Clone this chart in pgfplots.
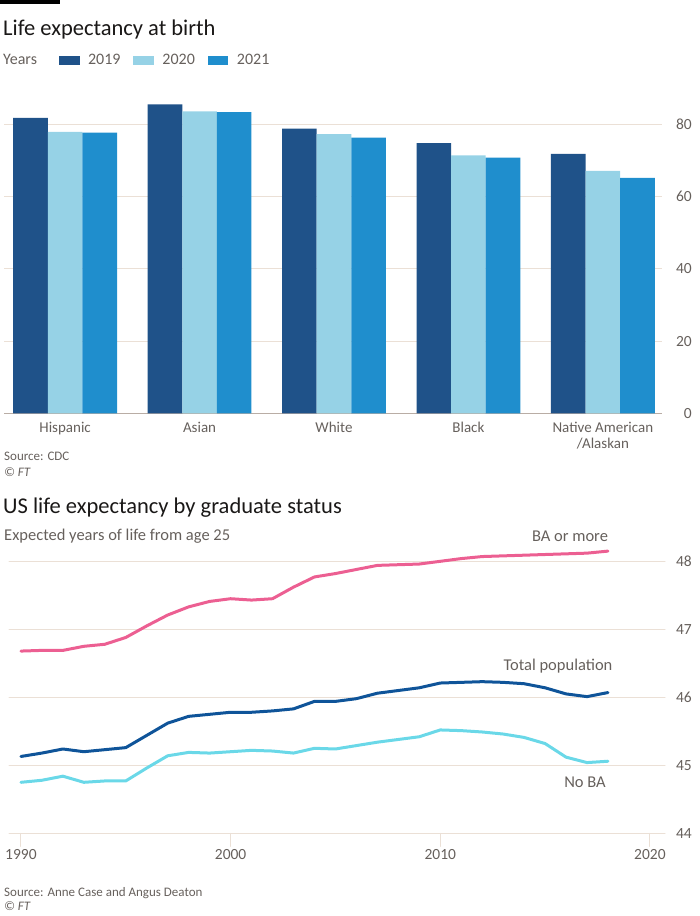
\documentclass[border=0pt]{standalone}
\usepackage{pgfplots}
\pgfplotsset{compat=1.18}
\usepackage{fontspec}
\setmainfont{Carlito}
\definecolor{cA}{HTML}{1F5289}
\definecolor{cB}{HTML}{96D2E6}
\definecolor{cC}{HTML}{1F8ECD}
\definecolor{pinkc}{HTML}{EC5F92}
\definecolor{navyc}{HTML}{0F5499}
\definecolor{cyanc}{HTML}{6AD8E8}
\definecolor{gridc}{HTML}{EBE0D6}
\definecolor{basec}{HTML}{B9ADA5}
\definecolor{txt}{HTML}{66605C}
\definecolor{ttl}{HTML}{1A1817}
\begin{document}
\begin{tikzpicture}
\path[use as bounding box] (0pt,0pt) rectangle (700pt,-916pt);
\fill[black] (0pt,0pt) rectangle (60pt,-4pt);
\node[anchor=base west, inner sep=0pt, text=ttl, font=\fontsize{22.5}{26}\selectfont] at (3pt,-35pt) {Life expectancy at birth};

\begin{axis}[
  at={(4.5pt,-413.3pt)}, anchor=south west, scale only axis,
  width=657.5pt, height=317.9pt,
  xmin=-0.451, xmax=4.44, ymin=0, ymax=88,
  ybar=0pt, bar width=34.6pt,
  axis line style={draw=none},
  xtick={0,1,2,3,4},
  xticklabels={Hispanic,Asian,White,Black,{Native American\\/Alaskan}},
  xticklabel style={align=center, yshift=-5pt, font=\fontsize{15}{16.5}\selectfont, text=txt},
  major tick length=0pt,
  ytick={20,40,60,80},
  extra y ticks={0},
  extra y tick style={grid style={draw=basec, line width=1.2pt}},
  ymajorgrids, grid style={draw=gridc, line width=1pt},
  yticklabel pos=right,
  yticklabel style={anchor=east, xshift=30pt, inner sep=0pt, font=\fontsize{15.5}{17}\selectfont, text=txt},
  /pgf/number format/assume math mode=true,
  legend style={draw=none, fill=none, at={(axis description cs:-0.0152,1.1098)}, anchor=west,
    inner sep=0pt, font=\fontsize{16}{18}\selectfont, text=txt,
    nodes={inner sep=0pt},
    /tikz/every odd column/.append style={column sep=8.5pt},
    /tikz/every even column/.append style={column sep=13pt}},
  legend columns=-1,
  legend image code/.code={\fill[#1] (0pt,-4.6pt) rectangle (20.5pt,4.6pt);},
]
\addlegendimage{empty legend}
\addlegendentry{Years\rule{9pt}{0pt}}
\addplot[fill=cA, draw=none] coordinates {(0,81.8) (1,85.5) (2,78.8) (3,74.8) (4,71.8)};
\addlegendentry{2019}
\addplot[fill=cB, draw=none] coordinates {(0,77.9) (1,83.6) (2,77.3) (3,71.4) (4,67.1)};
\addlegendentry{2020}
\addplot[fill=cC, draw=none] coordinates {(0,77.7) (1,83.4) (2,76.3) (3,70.8) (4,65.2)};
\addlegendentry{2021}
\end{axis}

\node[anchor=base west, inner sep=0pt, text=txt, font=\fontsize{13}{15}\selectfont] at (4pt,-460.5pt) {Source: CDC};
\node[anchor=base west, inner sep=0pt, text=txt, font=\fontsize{13}{15}\selectfont\itshape] at (4pt,-476.5pt) {\textcopyright{} FT};

\node[anchor=base west, inner sep=0pt, text=ttl, font=\fontsize{22.5}{26}\selectfont] at (3pt,-513.3pt) {US life expectancy by graduate status};
\node[anchor=base west, inner sep=0pt, text=txt, font=\fontsize{16.5}{19}\selectfont] at (4pt,-540pt) {Expected years of life from age 25};

\begin{axis}[
  at={(9pt,-833.3pt)}, anchor=south west, scale only axis,
  width=656pt, height=292.4pt,
  xmin=1989.43, xmax=2020.72, ymin=44, ymax=48.3,
  axis line style={draw=none},
  xtick={1990,2000,2010,2020},
  ytick={44,45,46,47,48},
  xtick pos=lower,
  ymajorgrids, grid style={draw=gridc, line width=1pt},
  tick align=outside, major tick length=13pt,
  xtick style={draw=gridc, line width=1pt},
  ytick style={draw=none},
  xticklabel style={font=\fontsize{15.5}{17}\selectfont, text=txt},
  yticklabel pos=right,
  yticklabel style={anchor=east, xshift=14pt, inner sep=0pt, font=\fontsize{15.5}{17}\selectfont, text=txt},
  /pgf/number format/assume math mode=true,
  /pgf/number format/1000 sep={},
  line join=round, line cap=round,
]
\addplot[pinkc, line width=3pt] coordinates {
(1990,46.68) (1991,46.69) (1992,46.69) (1993,46.75) (1994,46.78) (1995,46.88) (1996,47.05) (1997,47.21) (1998,47.33) (1999,47.41)
(2000,47.45) (2001,47.43) (2002,47.45) (2003,47.62) (2004,47.77) (2005,47.82) (2006,47.88) (2007,47.94) (2008,47.95) (2009,47.96)
(2010,48.00) (2011,48.04) (2012,48.07) (2013,48.08) (2014,48.09) (2015,48.10) (2016,48.11) (2017,48.12) (2018,48.15)};
\addplot[navyc, line width=3pt] coordinates {
(1990,45.13) (1991,45.18) (1992,45.24) (1993,45.20) (1994,45.23) (1995,45.26) (1996,45.44) (1997,45.62) (1998,45.72) (1999,45.75)
(2000,45.78) (2001,45.78) (2002,45.80) (2003,45.83) (2004,45.94) (2005,45.94) (2006,45.98) (2007,46.06) (2008,46.10) (2009,46.14)
(2010,46.21) (2011,46.22) (2012,46.23) (2013,46.22) (2014,46.20) (2015,46.14) (2016,46.05) (2017,46.01) (2018,46.07)};
\addplot[cyanc, line width=3pt] coordinates {
(1990,44.75) (1991,44.78) (1992,44.84) (1993,44.75) (1994,44.77) (1995,44.77) (1996,44.96) (1997,45.14) (1998,45.19) (1999,45.18)
(2000,45.20) (2001,45.22) (2002,45.21) (2003,45.18) (2004,45.25) (2005,45.24) (2006,45.29) (2007,45.34) (2008,45.38) (2009,45.42)
(2010,45.52) (2011,45.51) (2012,45.49) (2013,45.46) (2014,45.41) (2015,45.32) (2016,45.12) (2017,45.04) (2018,45.06)};
\end{axis}

\node[anchor=base, inner sep=0pt, text=txt, font=\fontsize{16.5}{19}\selectfont] at (570pt,-541.5pt) {BA or more};
\node[anchor=base, inner sep=0pt, text=txt, font=\fontsize{16.5}{19}\selectfont] at (558pt,-670pt) {Total population};
\node[anchor=base, inner sep=0pt, text=txt, font=\fontsize{16.5}{19}\selectfont] at (585pt,-787pt) {No BA};

\node[anchor=base west, inner sep=0pt, text=txt, font=\fontsize{13}{15}\selectfont] at (4pt,-896pt) {Source: Anne Case and Angus Deaton};
\node[anchor=base west, inner sep=0pt, text=txt, font=\fontsize{13}{15}\selectfont\itshape] at (4pt,-910pt) {\textcopyright{} FT};
\end{tikzpicture}
\end{document}
